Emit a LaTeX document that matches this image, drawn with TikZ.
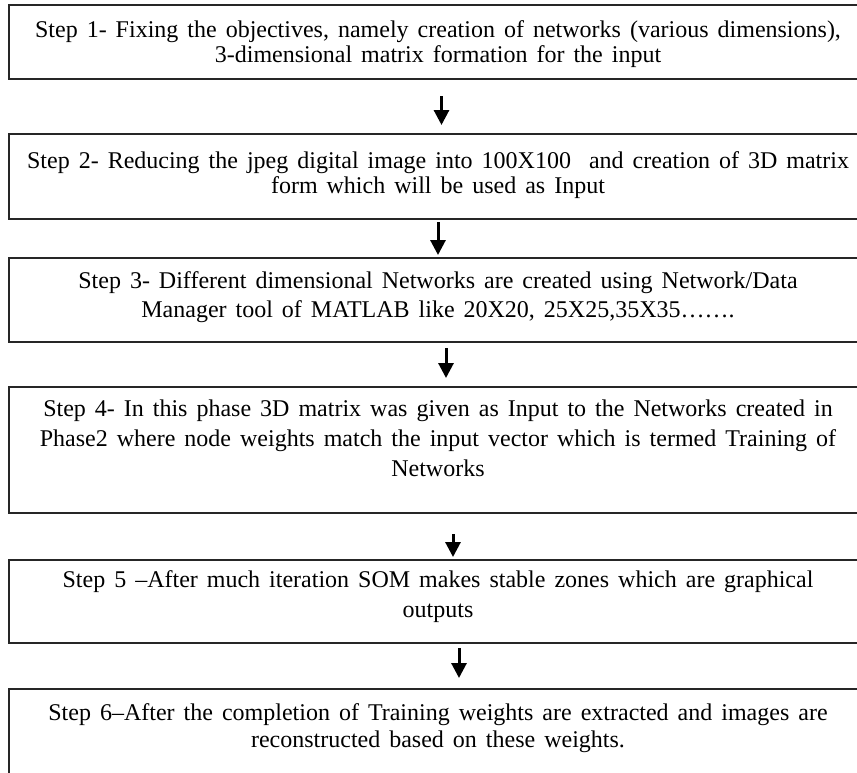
\documentclass[tikz,border=0pt]{standalone}
\usepackage{fontspec}
\setmainfont[WordSpace=1.5]{Liberation Serif}
\usetikzlibrary{arrows.meta}
\begin{document}
\begin{tikzpicture}[x=1pt,y=-1pt,
  box/.style={draw=black!85,line width=1.6pt,rectangle,inner sep=0pt,minimum width=858pt},
  txt/.style={font=\fontsize{24}{29}\selectfont,inner sep=0pt,anchor=base,align=center},
  arr/.style={line width=3pt,-{Triangle[length=15pt,width=15pt]}}]
\useasboundingbox (0,0) rectangle (857,772);
\fill[white] (0,0) rectangle (857,772);
% boxes
\node[box,minimum height=74pt]  (b1) at (438,42)    {};
\node[box,minimum height=85pt]  (b2) at (438,176.5) {};
\node[box,minimum height=84pt]  (b3) at (438,300)   {};
\node[box,minimum height=126pt] (b4) at (438,450)   {};
\node[box,minimum height=83pt]  (b5) at (438,601.5) {};
\node[box,minimum height=112pt] (b6) at (438,745)   {};
% texts (anchored at the baseline of the last line)
\node[txt,font=\fontsize{24}{25}\selectfont] (t1) at (438,62) {Step 1- Fixing the objectives, namely creation of networks (various dimensions),\\3-dimensional matrix formation for the input};
\node[txt,font=\fontsize{24}{25}\selectfont] (t2) at (438,193) {Step 2- Reducing the jpeg digital image into 100X100 \ and creation of 3D matrix\\form which will be used as Input};
\node[txt] (t3) at (438,317) {Step 3- Different dimensional Networks are created using Network/Data\\Manager tool of MATLAB like 20X20, 25X25,35X35…….};
\node[txt,font=\fontsize{24}{30}\selectfont] (t4) at (438,476) {Step 4- In this phase 3D matrix was given as Input to the Networks created in\\Phase2 where node weights match the input vector which is termed Training of\\Networks};
\node[txt,font=\fontsize{24}{30}\selectfont] (t5) at (438,617) {Step 5 –After much iteration SOM makes stable zones which are graphical\\outputs};
\node[txt,font=\fontsize{24}{27}\selectfont] (t6) at (438,747) {Step 6–After the completion of Training weights are extracted and images are\\reconstructed based on these weights.};
% arrows
\coordinate (s1) at (441.5,96);  \coordinate (e1) at (441.5,125);
\coordinate (s2) at (438,222);   \coordinate (e2) at (438,255);
\coordinate (s3) at (446,348);   \coordinate (e3) at (446,378);
\coordinate (s4) at (453,534);   \coordinate (e4) at (453,557);
\coordinate (s5) at (459,648);   \coordinate (e5) at (459,678);
\draw[arr] (s1) -- (e1);
\draw[arr] (s2) -- (e2);
\draw[arr] (s3) -- (e3);
\draw[arr] (s4) -- (e4);
\draw[arr] (s5) -- (e5);
\end{tikzpicture}
\end{document}
